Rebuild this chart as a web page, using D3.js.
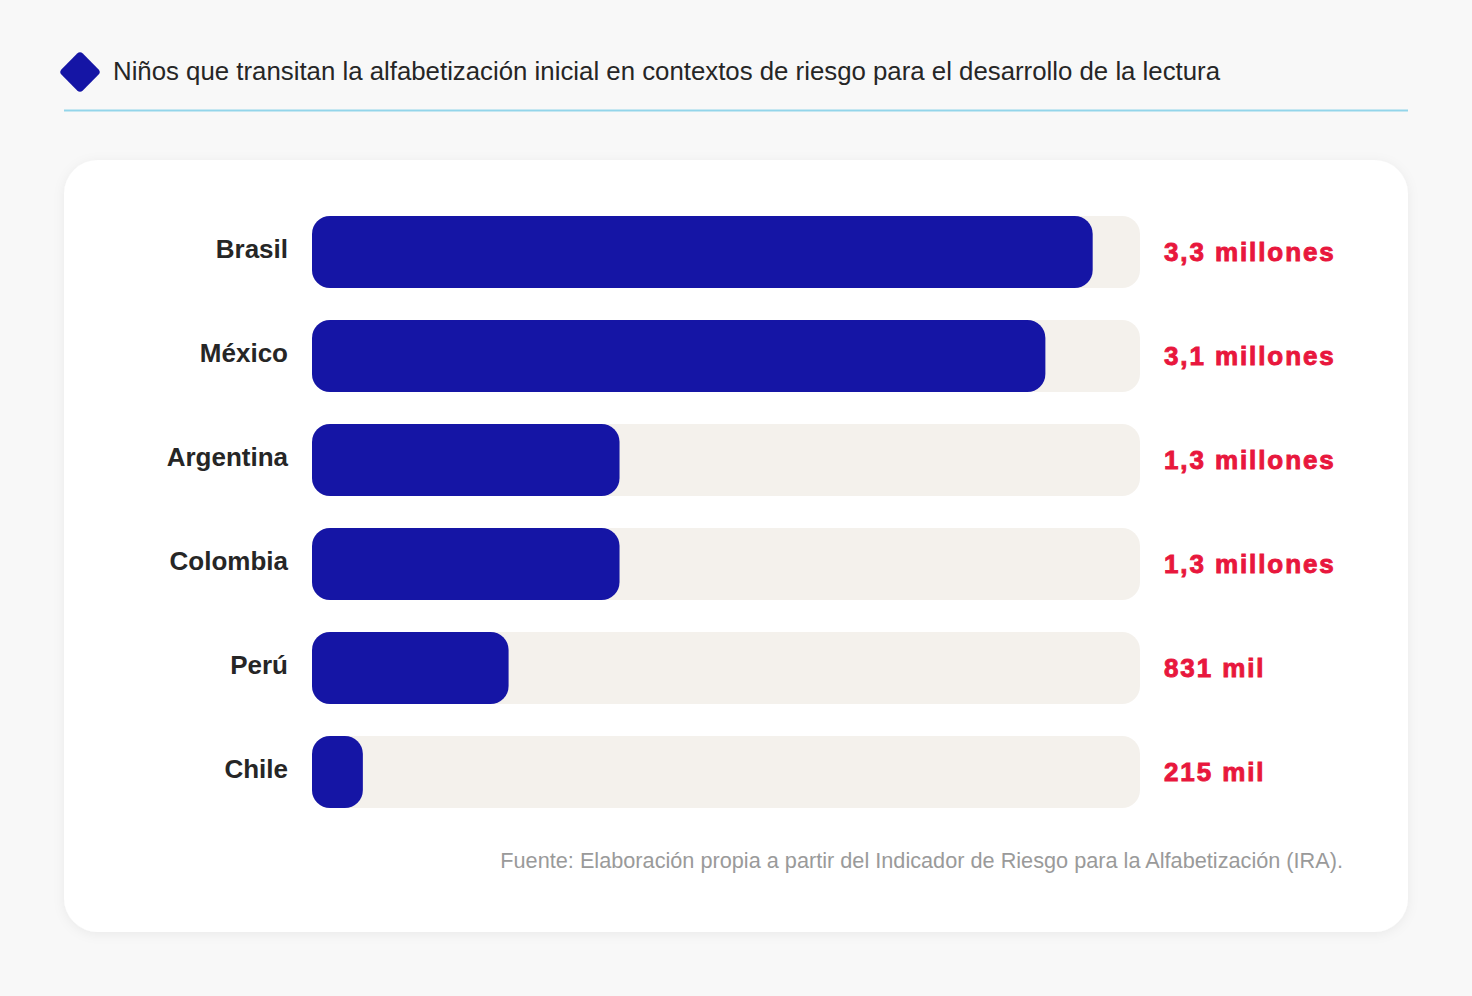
<!DOCTYPE html>
<html><head><meta charset="utf-8">
<script src="https://cdn.jsdelivr.net/npm/d3@7"></script>
<style>
html,body{margin:0;padding:0;background:#f8f8f8;}
svg{display:block;}
</style></head>
<body>
<svg id="c" width="1472" height="996"></svg>
<script>
const countries = ["Brasil","México","Argentina","Colombia","Perú","Chile"];
const values = [3.3, 3.1, 1.3, 1.3, 0.831, 0.215]; // millones
const valueLabels = ["3,3 millones","3,1 millones","1,3 millones","1,3 millones","831 mil","215 mil"];
const domainMax = 3.5;
const title = "Niños que transitan la alfabetización inicial en contextos de riesgo para el desarrollo de la lectura";
const source = "Fuente: Elaboración propia a partir del Indicador de Riesgo para la Alfabetización (IRA).";

const FONT = "'Liberation Sans', Arial, Helvetica, sans-serif";
const svg = d3.select("#c");
const defs = svg.append("defs");
const f = defs.append("filter").attr("id","sh").attr("x","-5%").attr("y","-5%").attr("width","110%").attr("height","115%");
f.append("feDropShadow").attr("dx",0).attr("dy",2).attr("stdDeviation",6).attr("flood-color","#000").attr("flood-opacity",0.06);

// header
svg.append("rect").attr("x",-15).attr("y",-15).attr("width",30).attr("height",30).attr("rx",4)
  .attr("fill","#1515a5").attr("transform","translate(80,72) rotate(45)");
svg.append("text").attr("x",113).attr("y",80).text(title)
  .attr("font-family",FONT).attr("font-size",25.8).attr("fill","#262626");
svg.append("line").attr("x1",64).attr("x2",1408).attr("y1",110.5).attr("y2",110.5)
  .attr("stroke","#93d5ea").attr("stroke-width",2);

// card
svg.append("rect").attr("x",64).attr("y",160).attr("width",1344).attr("height",772).attr("rx",34)
  .attr("fill","#fff").attr("filter","url(#sh)");

const x = d3.scaleLinear().domain([0, domainMax]).range([312, 1140]);
const y = d3.scaleBand().domain(countries).range([216, 216+104*6-32]).paddingInner(32/104);

const g = svg.append("g");
const rows = g.selectAll("g.row").data(countries.map((c,i)=>({c, v:values[i], l:valueLabels[i]})))
  .join("g").attr("class","row");

rows.append("rect").attr("x", x(0)).attr("y", d=>y(d.c)).attr("height", y.bandwidth())
  .attr("width", x(domainMax)-x(0)).attr("rx",18).attr("fill","#f4f1ec");
rows.append("rect").attr("x", x(0)).attr("y", d=>y(d.c)).attr("height", y.bandwidth())
  .attr("width", d=>x(d.v)-x(0)).attr("rx",18).attr("fill","#1515a5");
rows.append("text").attr("x",288).attr("y", d=>y(d.c)+y.bandwidth()/2 - 3).attr("dy","0.35em")
  .attr("text-anchor","end").attr("font-family",FONT)
  .attr("font-weight","bold").attr("font-size",26).attr("fill","#262626").text(d=>d.c);
rows.append("text").attr("x",1164).attr("y", d=>y(d.c)+y.bandwidth()/2).attr("dy","0.35em")
  .attr("font-family",FONT).attr("letter-spacing",1.9)
  .attr("font-weight","bold").attr("font-size",26).attr("fill","#e8173d")
  .attr("stroke","#e8173d").attr("stroke-width",0.9).text(d=>d.l);

svg.append("text").attr("x",1343).attr("y",868).attr("text-anchor","end").text(source)
  .attr("font-family",FONT).attr("font-size",21.7).attr("fill","#9a9a9a");
</script>
</body></html>
